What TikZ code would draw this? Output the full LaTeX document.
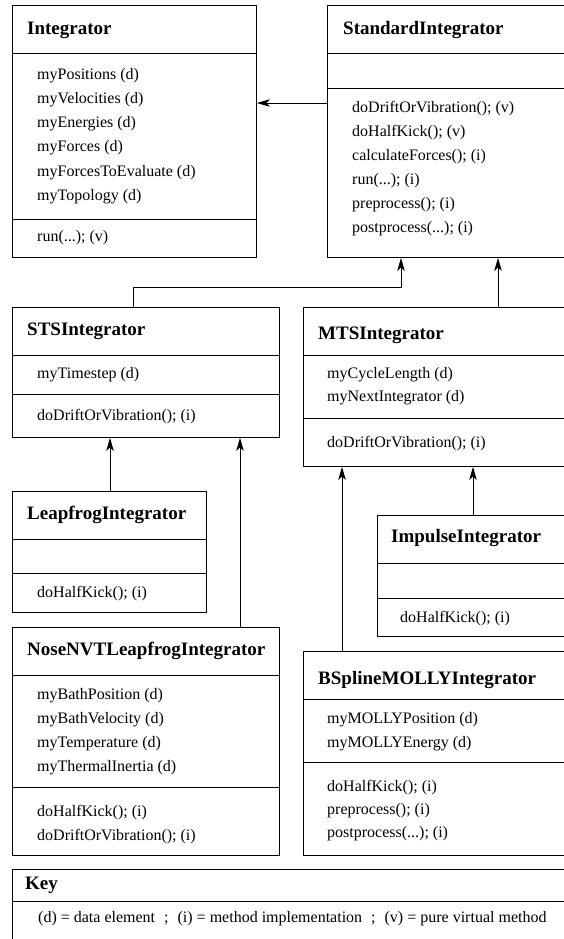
\documentclass[tikz,border=0pt]{standalone}
\usepackage{fontspec}
\setmainfont{Liberation Serif}
\usetikzlibrary{arrows.meta}

\tikzset{
  box/.style={draw, line width=0.9pt, anchor=north west, inner sep=0pt},
  sep/.style={line width=0.9pt},
  ttl/.style={anchor=west, inner sep=0pt, font=\fontsize{19}{22}\selectfont\bfseries,
              text height=13pt, text depth=4pt},
  item/.style={anchor=west, inner sep=0pt, font=\fontsize{16}{19}\selectfont,
               text height=11pt, text depth=3.5pt},
  arr/.style={line width=0.9pt, -{Stealth[length=13pt,width=7.5pt,inset=3.5pt]}},
}

\begin{document}
\begin{tikzpicture}[x=1pt, y=-1pt]
\useasboundingbox (0,0) rectangle (564,939);
\clip (0,0) rectangle (564,939);

% ---------- Integrator ----------
\node[box, minimum width=244pt, minimum height=252pt] (integ) at (12,5) {};
\draw[sep] ([yshift=-48]integ.north west) -- ([yshift=-48]integ.north east);
\draw[sep] ([yshift=-214]integ.north west) -- ([yshift=-214]integ.north east);
\node[ttl]  (integ-t)  at (27,30)    {Integrator};
\node[item] (integ-a1) at (37,75.5)  {myPositions (d)};
\node[item] (integ-a2) at (37,99.7)  {myVelocities (d)};
\node[item] (integ-a3) at (37,123.9) {myEnergies (d)};
\node[item] (integ-a4) at (37,148.1) {myForces (d)};
\node[item] (integ-a5) at (37,172.3) {myForcesToEvaluate (d)};
\node[item] (integ-a6) at (37,196.5) {myTopology (d)};
\node[item] (integ-m1) at (37,238)   {run(...); (v)};

% ---------- StandardIntegrator ----------
\node[box, minimum width=260pt, minimum height=252pt] (std) at (327,5) {};
\draw[sep] ([yshift=-48]std.north west) -- ([yshift=-48]std.north east);
\draw[sep] ([yshift=-83]std.north west) -- ([yshift=-83]std.north east);
\node[ttl]  (std-t)  at (343,30)    {StandardIntegrator};
\node[item] (std-m1) at (352,108.5) {doDriftOrVibration(); (v)};
\node[item] (std-m2) at (352,132.5) {doHalfKick(); (v)};
\node[item] (std-m3) at (352,156.5) {calculateForces(); (i)};
\node[item] (std-m4) at (352,180.5) {run(...); (i)};
\node[item] (std-m5) at (352,204.5) {preprocess(); (i)};
\node[item] (std-m6) at (352,228.5) {postprocess(...); (i)};

% ---------- STSIntegrator ----------
\node[box, minimum width=267pt, minimum height=130pt] (sts) at (12,307) {};
\draw[sep] ([yshift=-48]sts.north west) -- ([yshift=-48]sts.north east);
\draw[sep] ([yshift=-87]sts.north west) -- ([yshift=-87]sts.north east);
\node[ttl]  (sts-t)  at (27,330.5) {STSIntegrator};
\node[item] (sts-a1) at (37,375)   {myTimestep (d)};
\node[item] (sts-m1) at (37,416.5) {doDriftOrVibration(); (i)};

% ---------- MTSIntegrator ----------
\node[box, minimum width=284pt, minimum height=159pt] (mts) at (303,307) {};
\draw[sep] ([yshift=-48]mts.north west) -- ([yshift=-48]mts.north east);
\draw[sep] ([yshift=-111]mts.north west) -- ([yshift=-111]mts.north east);
\node[ttl]  (mts-t)  at (318,335)   {MTSIntegrator};
\node[item] (mts-a1) at (327,374.5) {myCycleLength (d)};
\node[item] (mts-a2) at (327,397.5) {myNextIntegrator (d)};
\node[item] (mts-m1) at (327,443.5) {doDriftOrVibration(); (i)};

% ---------- LeapfrogIntegrator ----------
\node[box, minimum width=194pt, minimum height=121pt] (lf) at (12,491) {};
\draw[sep] ([yshift=-48]lf.north west) -- ([yshift=-48]lf.north east);
\draw[sep] ([yshift=-82]lf.north west) -- ([yshift=-82]lf.north east);
\node[ttl]  (lf-t)  at (27,515)   {LeapfrogIntegrator};
\node[item] (lf-m1) at (37,593.5) {doHalfKick(); (i)};

% ---------- ImpulseIntegrator ----------
\node[box, minimum width=210pt, minimum height=121pt] (imp) at (377,515) {};
\draw[sep] ([yshift=-48]imp.north west) -- ([yshift=-48]imp.north east);
\draw[sep] ([yshift=-83]imp.north west) -- ([yshift=-83]imp.north east);
\node[ttl]  (imp-t)  at (391,538)   {ImpulseIntegrator};
\node[item] (imp-m1) at (400,618.5) {doHalfKick(); (i)};

% ---------- NoseNVTLeapfrogIntegrator ----------
\node[box, minimum width=267pt, minimum height=228pt] (nose) at (12,627) {};
\draw[sep] ([yshift=-48]nose.north west) -- ([yshift=-48]nose.north east);
\draw[sep] ([yshift=-160]nose.north west) -- ([yshift=-160]nose.north east);
\node[ttl]  (nose-t)  at (27,651)   {NoseNVTLeapfrogIntegrator};
\node[item] (nose-a1) at (37,695.5) {myBathPosition (d)};
\node[item] (nose-a2) at (37,719.7) {myBathVelocity (d)};
\node[item] (nose-a3) at (37,743.9) {myTemperature (d)};
\node[item] (nose-a4) at (37,768.1) {myThermalInertia (d)};
\node[item] (nose-m1) at (37,812.5) {doHalfKick(); (i)};
\node[item] (nose-m2) at (37,836.5) {doDriftOrVibration(); (i)};

% ---------- BSplineMOLLYIntegrator ----------
\node[box, minimum width=284pt, minimum height=204pt] (bs) at (303,651) {};
\draw[sep] ([yshift=-48]bs.north west) -- ([yshift=-48]bs.north east);
\draw[sep] ([yshift=-111]bs.north west) -- ([yshift=-111]bs.north east);
\node[ttl]  (bs-t)  at (318,679.5) {BSplineMOLLYIntegrator};
\node[item] (bs-a1) at (327,720)   {myMOLLYPosition (d)};
\node[item] (bs-a2) at (327,744)   {myMOLLYEnergy (d)};
\node[item] (bs-m1) at (327,788)   {doHalfKick(); (i)};
\node[item] (bs-m2) at (327,811)   {preprocess(); (i)};
\node[item] (bs-m3) at (327,834)   {postprocess(...); (i)};

% ---------- Key ----------
\node[box, minimum width=575pt, minimum height=100pt] (key) at (12,869) {};
\draw[sep] ([yshift=-32]key.north west) -- ([yshift=-32]key.north east);
\node[ttl]  (key-t) at (25,885) {Key};
\node[item] (key-a) at (38,919)
  {(d) = data element\hspace{9pt};\hspace{9pt}(i) = method implementation\hspace{9pt};\hspace{9pt}(v) = pure virtual method};

% ---------- inheritance arrows ----------
\draw[arr] ([yshift=-98]std.north west) -- ([yshift=-98]integ.north east);
\draw[arr] ([xshift=121]sts.north west) |- ([xshift=74,yshift=-30]std.south west)
           -- ([xshift=74]std.south west);
\draw[arr] ([xshift=195]mts.north west) -- ([xshift=171]std.south west);
\draw[arr] ([xshift=98]lf.north west) -- ([xshift=98]sts.south west);
\draw[arr] ([xshift=228]nose.north west) -- ([xshift=228]sts.south west);
\draw[arr] ([xshift=96]imp.north west) -- ([xshift=170]mts.south west);
\draw[arr] ([xshift=39]bs.north west) -- ([xshift=39]mts.south west);
\end{tikzpicture}
\end{document}
